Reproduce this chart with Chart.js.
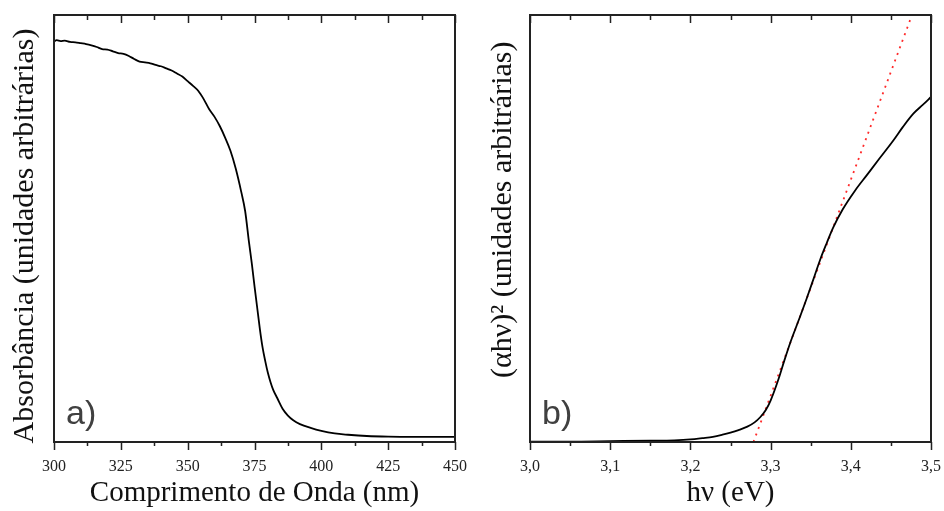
<!DOCTYPE html>
<html>
<head>
<meta charset="utf-8">
<script src="https://cdn.jsdelivr.net/npm/chart.js@4/dist/chart.umd.min.js"></script>
<style>
  html, body { margin: 0; padding: 0; background: #fff; }
  #wrap { position: relative; width: 944px; height: 511px; }
  .box { position: absolute; top: 0; width: 472px; height: 511px; }
  #b1 { left: 0; }
  #b2 { left: 472px; }
</style>
</head>
<body>
<div id="wrap">
  <div class="box" id="b1"><canvas id="c1" width="472" height="511"></canvas></div>
  <div class="box" id="b2"><canvas id="c2" width="472" height="511"></canvas></div>
</div>
<script>
// ---------- Panel a) : absorbance spectrum ----------
const wavelengthNm = [300, 301, 302.5, 304, 306, 308, 310, 312, 314, 316, 318, 320, 322, 324, 326, 328, 330, 332, 334, 336, 338, 340, 342, 344, 346, 348, 350, 352, 354, 356, 358, 360, 362, 364, 366, 368, 370, 371.5, 373, 374, 375, 376, 377, 378, 379, 380, 381, 382, 383.5, 385.5, 387.5, 389.5, 392, 396, 400, 405, 410, 417, 425, 435, 450];
const absorbance = [0.938, 0.941, 0.939, 0.940, 0.937, 0.936, 0.934, 0.932, 0.929, 0.925, 0.920, 0.919, 0.915, 0.911, 0.909, 0.904, 0.897, 0.891, 0.889, 0.887, 0.883, 0.880, 0.875, 0.870, 0.863, 0.856, 0.845, 0.834, 0.822, 0.803, 0.780, 0.762, 0.740, 0.713, 0.682, 0.640, 0.587, 0.541, 0.465, 0.418, 0.365, 0.315, 0.265, 0.222, 0.190, 0.162, 0.140, 0.122, 0.103, 0.078, 0.062, 0.051, 0.042, 0.033, 0.026, 0.020, 0.017, 0.014, 0.0125, 0.012, 0.012];
const wavelengthTicks = [300, 325, 350, 375, 400, 425, 450];
const wavelengthTickLabels = ['300', '325', '350', '375', '400', '425', '450'];

// ---------- Panel b) : Tauc plot ----------
const photonEnergy = [3.00, 3.05, 3.10, 3.15, 3.18, 3.20, 3.215, 3.228, 3.24, 3.25, 3.26, 3.271, 3.28, 3.287, 3.294, 3.30, 3.31, 3.317, 3.3244, 3.335, 3.345, 3.355, 3.362, 3.37, 3.378, 3.39, 3.405, 3.42, 3.435, 3.453, 3.465, 3.478, 3.49, 3.50];
const taucValue = [0.001, 0.001, 0.002, 0.003, 0.004, 0.006, 0.009, 0.012, 0.017, 0.022, 0.028, 0.036, 0.046, 0.058, 0.075, 0.097, 0.148, 0.190, 0.232, 0.285, 0.336, 0.390, 0.428, 0.466, 0.502, 0.545, 0.588, 0.625, 0.662, 0.706, 0.738, 0.769, 0.790, 0.808];
const fitEnergy = [3.2786, 3.4763];
const fitValue = [0.0, 1.0];
const energyTicks = [3.0, 3.1, 3.2, 3.3, 3.4, 3.5];
const energyTickLabels = ['3,0', '3,1', '3,2', '3,3', '3,4', '3,5'];

const SERIF = "'Liberation Serif', 'Times New Roman', serif";
const INK = '#222222';

function xy(xs, ys) { return xs.map((x, i) => ({ x: x, y: ys[i] })); }

// frame + ticks + panel letter, drawn through the chart's scales
function framePlugin(letter, majors) {
  return {
    id: 'frame',
    afterDraw(chart) {
      const ctx = chart.ctx;
      const a = chart.chartArea;
      const xs = chart.scales.x;
      ctx.save();
      ctx.strokeStyle = INK;
      ctx.lineWidth = 1.5;
      const step = majors[1] - majors[0];
      const all = [];
      majors.forEach((v, i) => {
        all.push({ v: v, major: true });
        if (i < majors.length - 1) all.push({ v: v + step / 2, major: false });
      });
      all.forEach(t => {
        const px = Math.round(xs.getPixelForValue(t.v)) + 0.5;
        const lenOut = t.major ? 8 : 4;
        const lenIn = t.major ? 8 : 5;
        ctx.beginPath();
        ctx.moveTo(px, a.bottom);
        ctx.lineTo(px, a.bottom + lenOut);
        ctx.moveTo(px, a.top);
        ctx.lineTo(px, a.top + lenIn);
        ctx.stroke();
      });
      ctx.lineWidth = 2;
      ctx.strokeStyle = INK;
      ctx.strokeRect(a.left, a.top, a.right - a.left, a.bottom - a.top);
      ctx.fillStyle = '#404040';
      ctx.font = "34px 'Liberation Sans', Arial, sans-serif";
      ctx.textBaseline = 'alphabetic';
      ctx.textAlign = 'left';
      ctx.fillText(letter, a.left + 12, a.bottom - 18);
      ctx.restore();
    }
  };
}

function makeOptions(cfg) {
  return {
    responsive: false,
    animation: false,
    events: [],
    layout: { padding: cfg.padding },
    plugins: { legend: { display: false }, tooltip: { enabled: false } },
    scales: {
      x: {
        type: 'linear',
        min: cfg.xmin, max: cfg.xmax,
        afterBuildTicks: s => { s.ticks = cfg.ticks.map(v => ({ value: v })); },
        afterFit: s => { s.height = 69; s.paddingLeft = 0; s.paddingRight = 0; },
        grid: { display: false, drawTicks: false },
        border: { display: false },
        ticks: {
          autoSkip: false, maxRotation: 0, padding: 15,
          color: INK,
          font: { family: SERIF, size: 16 },
          callback: (v, i) => cfg.tickLabels[i]
        },
        title: {
          display: true, text: cfg.xTitle, color: '#111',
          font: { family: SERIF, size: 29 },
          padding: { top: 0, bottom: 0 }
        }
      },
      y: {
        type: 'linear', min: 0, max: 1,
        afterFit: s => { s.width = cfg.yWidth; },
        grid: { display: false, drawTicks: false },
        border: { display: false },
        ticks: { display: false },
        title: {
          display: true, text: cfg.yTitle, color: '#111',
          font: { family: SERIF, size: 30 },
          padding: { top: cfg.yTitlePad, bottom: 0 }
        }
      }
    }
  };
}

new Chart(document.getElementById('c1'), {
  type: 'line',
  data: {
    datasets: [{
      data: xy(wavelengthNm, absorbance),
      borderColor: '#000', borderWidth: 1.8, pointRadius: 0,
      cubicInterpolationMode: 'monotone', fill: false
    }]
  },
  options: makeOptions({
    padding: { left: 0, right: 17, top: 15, bottom: 0 },
    xmin: 300, xmax: 450, ticks: wavelengthTicks, tickLabels: wavelengthTickLabels,
    xTitle: 'Comprimento de Onda (nm)',
    yTitle: 'Absorbância (unidades arbitrárias)  ',
    yWidth: 54, yTitlePad: 7
  }),
  plugins: [framePlugin('a)', wavelengthTicks)]
});

new Chart(document.getElementById('c2'), {
  type: 'line',
  data: {
    datasets: [{
      data: xy(photonEnergy, taucValue),
      borderColor: '#000', borderWidth: 1.8, pointRadius: 0,
      cubicInterpolationMode: 'monotone', fill: false
    }, {
      data: xy(fitEnergy, fitValue),
      borderColor: '#ff2a2a', borderWidth: 1.8, pointRadius: 0,
      borderDash: [2, 5], fill: false
    }]
  },
  options: makeOptions({
    padding: { left: 0, right: 13, top: 15, bottom: 0 },
    xmin: 3.0, xmax: 3.5, ticks: energyTicks, tickLabels: energyTickLabels,
    xTitle: 'hν (eV)',
    yTitle: '     (αhν)² (unidades arbitrárias)',
    yWidth: 58, yTitlePad: 13
  }),
  plugins: [framePlugin('b)', energyTicks)]
});
</script>
</body>
</html>
